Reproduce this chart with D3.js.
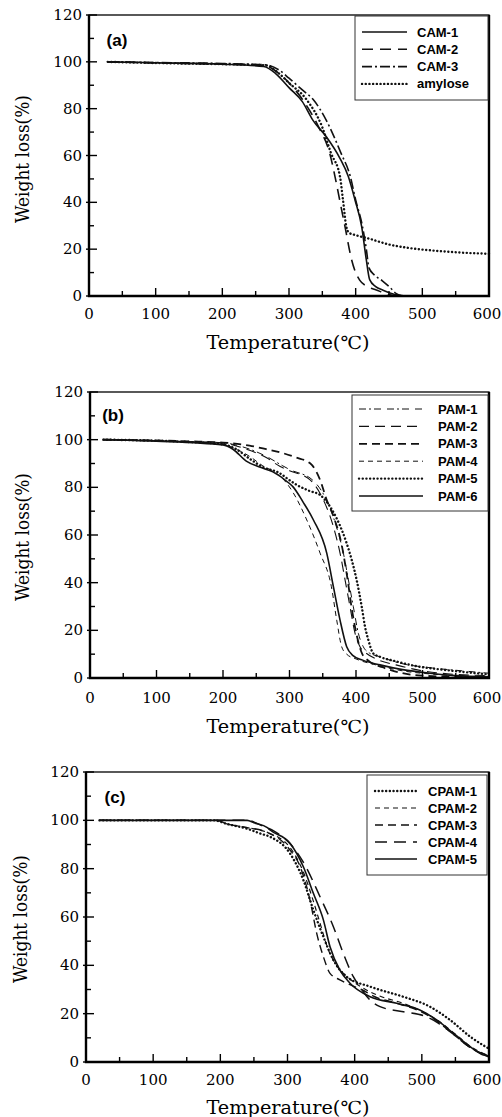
<!DOCTYPE html>
<html>
<head>
<meta charset="utf-8">
<script src="https://cdn.jsdelivr.net/npm/d3@7"></script>
<style>
  body { margin: 0; background: #fff; }
  svg { display: block; }
</style>
</head>
<body>
<div id="chart"></div>
<script>
/*********************** data (temperature °C, weight %) ******************/
const xTicks = [0, 100, 200, 300, 400, 500, 600];
const yTicks = [0, 20, 40, 60, 80, 100, 120];

// panel (a)
const cam1 = [[28,100],[100,99.6],[200,99],[262,98],[280,95],[300,89],[320,83],[336,75],[356,68],[376,59],[389,51],[399,41],[409,29.6],[416,15.4],[421,7],[430,4],[441,2.5],[455,1],[475,0]];
const cam2 = [[28,100],[100,99.5],[200,99],[262,98.5],[285,95],[300,91],[320,84],[344,72.4],[361,61],[369,51],[376,41],[384,29.6],[394,15.4],[400,10],[406,6.8],[418,4],[431,2.6],[445,1],[465,0]];
const cam3 = [[28,100],[100,99.7],[200,99.3],[265,98.7],[285,96.5],[300,93],[320,88],[336,84],[356,75],[378,61],[392,51],[400,41],[410,30],[416,20],[420,12],[428,9],[440,6.5],[452,3.5],[461,1],[470,0]];
const amylose = [[28,100],[100,99.5],[200,99],[265,98.5],[285,95],[300,91],[326,84],[350,72],[363,61],[376.5,51],[381,41],[386,29.6],[390,27],[400,26],[420,24.5],[450,22],[480,20.5],[520,19.3],[560,18.5],[600,18]];
const namesA = ["CAM-1", "CAM-2", "CAM-3", "amylose"];

// panel (b)
const pam1 = [[20,100],[150,99.2],[200,98.7],[235,96.5],[265,93],[290,89],[300,87.5],[335,83],[355,75],[370,64],[381,52.4],[388.6,41.1],[396,29.9],[403.6,18.7],[411,13.1],[420,10.5],[435,9],[465,6.3],[515,4.2],[560,3],[600,2]];
const pam2 = [[20,100],[150,99],[200,98.5],[235,96],[265,92.5],[286,88.7],[300,87],[331,83.1],[351,74.7],[366,63.5],[376,52.4],[383.6,41.1],[391,29.9],[398.6,18.7],[406,13.1],[416,10.3],[430,8],[460,5.5],[500,3],[550,1.5],[600,1]];
const pam3 = [[20,100],[150,99.3],[200,98.8],[240,97.5],[265,96],[290.8,94.3],[310,92.5],[331,90.1],[346,83.1],[356,74.7],[366.4,67.7],[379,55.1],[386.7,42.5],[394,28.5],[401.6,17.3],[409,10.3],[420,7],[440,4.5],[470,2],[500,1],[550,0.5],[600,0.3]];
const pam4 = [[20,100],[100,99.5],[200,98],[220,96],[240,93],[260,89],[280,86],[295,82],[305,78],[326,66.3],[346,52.4],[363,38.3],[371,24.3],[378.5,13.1],[386,10],[400,8],[430,5.5],[470,3],[520,1.5],[600,0.3]];
const pam5 = [[20,100],[150,99],[200,98],[220,96],[240,92],[260,88.5],[285,86],[300,83],[311,81],[330,78.5],[346,76.8],[361,71.9],[378.6,62.1],[386,56.5],[393.6,49.5],[401,41.1],[408.6,29.9],[413.6,21.5],[418.6,15.9],[426,10.3],[436,8.9],[460,7],[490,5],[530,3.5],[600,1.5]];
const pam6 = [[20,100],[100,99.4],[200,97.8],[215,96],[235,91],[255,88.5],[275,86.5],[300,81.6],[305,80.3],[320,74],[336,66.3],[356,52.4],[366,38.3],[376,24.3],[386,13.1],[395,9.5],[410,7.5],[436,5.5],[470,3.5],[511,2],[550,1],[600,0.5]];
const namesB = ["PAM-1", "PAM-2", "PAM-3", "PAM-4", "PAM-5", "PAM-6"];

// panel (c)
const cpam1 = [[20,100],[190,100],[210,98.5],[240,96.5],[260,94.5],[274,93.2],[303.7,86.3],[323.6,75.3],[338.5,62.9],[353.4,51.8],[368.3,42.2],[388,35.3],[423,31.2],[472.5,27],[512,22.9],[542,17.4],[572,10.5],[600,5.5]];
const cpam2 = [[20,100],[195,100],[210,98.5],[240,97],[270,95],[303,89],[323,79],[338,67],[350,56],[360,47],[373,40],[390,35],[410,31],[440,27],[470,24.5],[500,21],[525,17],[550,11.5],[575,6],[600,2.5]];
const cpam3 = [[20,100],[195,100],[210,98.5],[240,97],[270,95],[300,89],[320,80],[333.5,67],[343.5,53.2],[353.4,43.6],[363.3,36.7],[378,34],[393,32],[410,30],[430,27],[460,24.5],[497,21],[522,17],[547,11.5],[572,6],[600,2]];
const cpam4 = [[20,100],[240,100],[260,98],[280,95.5],[305,90],[325,82],[348.4,68.4],[368.3,56],[383,45],[398,35.3],[408,31],[423,25.6],[437.8,22.9],[472.5,20.8],[507,18.7],[525,16],[547,11.5],[572,6],[600,2.5]];
const cpam5 = [[20,100],[240,100],[250,99],[270,97],[274,96],[303.7,90.5],[323.6,80.8],[338.5,69.8],[353.4,58.8],[363.3,47.7],[378,38],[393,32.6],[423,27],[462.6,24.3],[497,21.5],[522,17.4],[547,11.9],[572,6.3],[591.6,2.9],[600,2.5]];
const namesC = ["CPAM-1", "CPAM-2", "CPAM-3", "CPAM-4", "CPAM-5"];

/*********************** line styles ******************/
const SOLID = { dash: null, width: 1.6 };
const DOTTED = { dash: "0.1,3.6", width: 2.4, cap: "round" };

const width = 502, height = 1117;

main();

function main () {
  const svg = d3.select("#chart").append("svg")
    .attr("width", width)
    .attr("height", height);

  drawPanel(svg, {
    frame: { left: 89, right: 489, top: 15, bottom: 296 },
    tag: "(a)", tagPos: [117, 40],
    series: [cam1, cam2, cam3, amylose],
    names: namesA,
    styles: [SOLID, { dash: "11,7", width: 1.6 }, { dash: "10,3,2,3", width: 1.6 }, DOTTED],
    legend: { x0: 355, x1: 488, y0: 16, y1: 100, row0: 32, step: 17.3, l0: 362, l1: 407, tx: 417 },
    tickY: 314, titleX: [288, 342], titleY: [22, 159],
  });

  drawPanel(svg, {
    frame: { left: 90, right: 489, top: 392, bottom: 678 },
    tag: "(b)", tagPos: [113, 415],
    series: [pam1, pam2, pam3, pam4, pam5, pam6],
    names: namesB,
    styles: [
      { dash: "7,3,2,3,7,6", width: 1 },
      { dash: "10,6", width: 1.1 },
      { dash: "8,5", width: 1.8 },
      { dash: "5,4", width: 1 },
      DOTTED,
      SOLID,
    ],
    legend: { x0: 352, x1: 488, y0: 395, y1: 511, row0: 409, step: 17.4, l0: 359, l1: 423, tx: 438 },
    tickY: 698, titleX: [288, 726], titleY: [22, 537],
  });

  drawPanel(svg, {
    frame: { left: 86, right: 489, top: 772, bottom: 1062 },
    tag: "(c)", tagPos: [115, 797],
    series: [cpam1, cpam2, cpam3, cpam4, cpam5],
    names: namesC,
    styles: [
      DOTTED,
      { dash: "5,4", width: 1.2 },
      { dash: "8,5", width: 1.4 },
      { dash: "12,7", width: 1.5 },
      SOLID,
    ],
    legend: { x0: 367, x1: 487, y0: 775, y1: 875, row0: 791, step: 17, l0: 375, l1: 417, tx: 428 },
    tickY: 1080, titleX: [288, 1107], titleY: [20, 919],
  });
}

function drawPanel (svg, cfg) {
  const f = cfg.frame;
  const g = svg.append("g");

  const scaleX = d3.scaleLinear().domain([0, 600]).range([f.left, f.right]);
  const scaleY = d3.scaleLinear().domain([0, 120]).range([f.bottom, f.top]);

  // curves
  const line = d3.line()
    .x((d) => scaleX(d[0]))
    .y((d) => scaleY(d[1]))
    .curve(d3.curveMonotoneX);

  g.selectAll("path.curve")
    .data(cfg.series)
    .join("path")
    .attr("class", "curve")
    .attr("d", line)
    .attr("fill", "none")
    .attr("stroke", "#111")
    .attr("stroke-width", (d, i) => cfg.styles[i].width)
    .attr("stroke-dasharray", (d, i) => cfg.styles[i].dash)
    .attr("stroke-linecap", (d, i) => cfg.styles[i].cap || "butt");

  // ticks, drawn inward
  const minorX = d3.range(50, 600, 100);
  const minorY = d3.range(10, 120, 20);
  g.selectAll("line.tx")
    .data(xTicks.concat(minorX))
    .join("line")
    .attr("x1", (d) => scaleX(d)).attr("x2", (d) => scaleX(d))
    .attr("y1", f.bottom)
    .attr("y2", (d) => f.bottom - (d % 100 === 0 ? 8 : 5))
    .attr("stroke", "#000").attr("stroke-width", 1.4);
  g.selectAll("line.ty")
    .data(yTicks.concat(minorY))
    .join("line")
    .attr("y1", (d) => scaleY(d)).attr("y2", (d) => scaleY(d))
    .attr("x1", (d) => f.left - (d % 20 === 0 ? 3 : 0))
    .attr("x2", (d) => f.left + (d % 20 === 0 ? 8 : 5))
    .attr("stroke", "#000").attr("stroke-width", 1.4);

  // frame
  g.append("rect")
    .attr("x", f.left).attr("y", f.top)
    .attr("width", f.right - f.left).attr("height", f.bottom - f.top)
    .attr("fill", "none").attr("stroke", "#000").attr("stroke-width", 1.3);
  g.append("path")
    .attr("d", `M${f.left},${f.top}V${f.bottom}H${f.right}V${f.top}`)
    .attr("fill", "none").attr("stroke", "#000").attr("stroke-width", 2.4);

  // tick labels (last one kept inside the page edge)
  g.selectAll("text.xl")
    .data(xTicks)
    .join("text")
    .attr("x", (d) => Math.min(scaleX(d), width - 15))
    .attr("y", cfg.tickY)
    .attr("text-anchor", "middle")
    .attr("dominant-baseline", "central")
    .attr("font-family", "DejaVu Serif")
    .attr("font-size", 15)
    .text((d) => d);
  g.selectAll("text.yl")
    .data(yTicks)
    .join("text")
    .attr("x", f.left - 7)
    .attr("y", (d) => scaleY(d))
    .attr("text-anchor", "end")
    .attr("dominant-baseline", "central")
    .attr("font-family", "DejaVu Serif")
    .attr("font-size", 15)
    .text((d) => d);

  // axis titles
  g.append("text")
    .attr("x", cfg.titleX[0]).attr("y", cfg.titleX[1])
    .attr("text-anchor", "middle")
    .attr("dominant-baseline", "central")
    .attr("font-family", "DejaVu Serif")
    .attr("font-size", 18)
    .attr("textLength", 163)
    .attr("lengthAdjust", "spacingAndGlyphs")
    .text("Temperature(℃)");
  g.append("text")
    .attr("transform", `translate(${cfg.titleY[0]},${cfg.titleY[1]}) rotate(-90)`)
    .attr("text-anchor", "middle")
    .attr("dominant-baseline", "central")
    .attr("font-family", "DejaVu Serif")
    .attr("font-size", 18)
    .attr("textLength", 128)
    .attr("lengthAdjust", "spacingAndGlyphs")
    .text("Weight loss(%)");

  // panel tag
  g.append("text")
    .attr("x", cfg.tagPos[0]).attr("y", cfg.tagPos[1])
    .attr("text-anchor", "middle")
    .attr("dominant-baseline", "central")
    .attr("font-family", "Liberation Sans")
    .attr("font-weight", "bold")
    .attr("font-size", 17)
    .text(cfg.tag);

  // legend
  const lg = cfg.legend;
  g.append("rect")
    .attr("x", lg.x0).attr("y", lg.y0)
    .attr("width", lg.x1 - lg.x0).attr("height", lg.y1 - lg.y0)
    .attr("fill", "#fff").attr("stroke", "#333").attr("stroke-width", 1);
  const rows = g.selectAll("g.lrow")
    .data(cfg.names)
    .join("g")
    .attr("transform", (d, i) => `translate(0,${lg.row0 + i * lg.step})`);
  rows.append("line")
    .attr("x1", lg.l0).attr("x2", lg.l1)
    .attr("stroke", "#111")
    .attr("stroke-width", (d, i) => cfg.styles[i].width)
    .attr("stroke-dasharray", (d, i) => cfg.styles[i].dash)
    .attr("stroke-linecap", (d, i) => cfg.styles[i].cap || "butt");
  rows.append("text")
    .attr("x", lg.tx)
    .attr("dominant-baseline", "central")
    .attr("font-family", "Liberation Sans")
    .attr("font-weight", "bold")
    .attr("font-size", 13)
    .text((d) => d);
}
</script>
</body>
</html>
